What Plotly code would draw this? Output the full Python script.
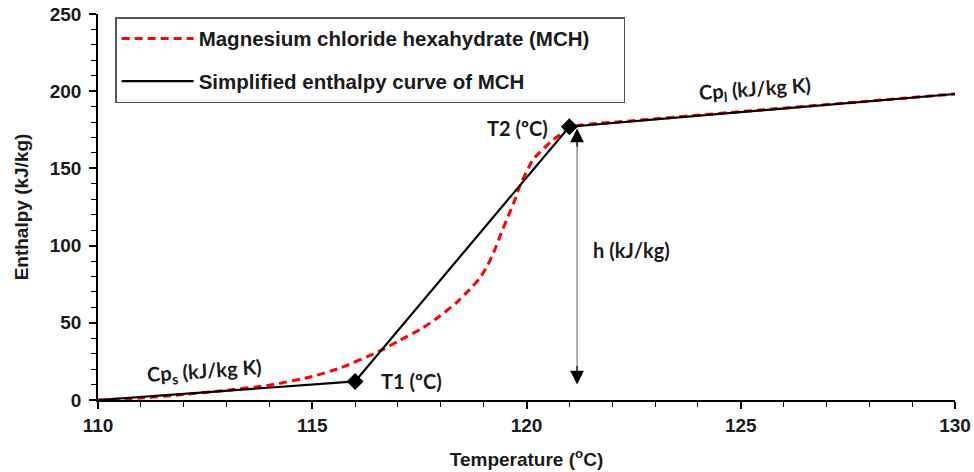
import plotly.graph_objects as go

# Data
mch_temp = [110, 111, 112, 113, 114, 115, 115.64, 116.57, 117.0, 117.58, 117.97, 118.36, 118.67,
            118.91, 119.10, 119.26, 119.41, 119.57, 119.73, 119.84, 120.15, 120.62, 121.09,
            121.71, 122, 125, 128, 130]
mch_enth = [0, 1.3, 3.5, 6.3, 9.6, 15.2, 20.6, 31.6, 38.0, 46.7, 54.2, 62.9, 71.5,
            79.0, 87.6, 97.3, 108.1, 118.9, 129.7, 138.3, 155.6, 168.5, 177.1,
            179.3, 179.8, 186.8, 193.6, 198.2]

simp_temp = [110, 116, 121, 130]
simp_enth = [0, 12, 177, 198.2]

key_temp = [116, 121]     # T1, T2
key_enth = [12, 177]

x_ticks = [110, 115, 120, 125, 130]
y_ticks = [0, 50, 100, 150, 200, 250]

TICKFONT = dict(family="Liberation Sans, Arial, sans-serif", size=19, color="#1a1a1a", weight="bold")
TITLEFONT = dict(family="Liberation Sans, Arial, sans-serif", size=19, color="#1a1a1a", weight="bold")
ANNFONT = dict(family="Lato, Open Sans, sans-serif", size=20, color="#1a1a1a", weight="bold")

fig = go.Figure()

fig.add_trace(go.Scatter(
    x=mch_temp, y=mch_enth, mode="lines",
    name="Magnesium chloride hexahydrate (MCH)\u00a0\u00a0\u00a0\u00a0\u00a0",
    line=dict(color="#FF0000", width=3, dash="8px,5px", shape="spline", smoothing=0.5),
    legendgroup="a",
))
fig.add_trace(go.Scatter(
    x=simp_temp, y=simp_enth, mode="lines", name="Simplified enthalpy curve of MCH",
    line=dict(color="#000000", width=2.2),
    legendgroup="b",
))
fig.add_trace(go.Scatter(
    x=key_temp, y=key_enth, mode="markers", showlegend=False,
    marker=dict(symbol="diamond", size=13, color="#000000"),
))

# double-headed arrow for h
arrow_x = 121.18
fig.add_shape(type="line", x0=arrow_x, x1=arrow_x, y0=18, y1=168,
              line=dict(color="#7f7f7f", width=1.2))
fig.add_annotation(x=arrow_x, y=175.8, ax=arrow_x, ay=163, axref="x", ayref="y",
                   showarrow=True, arrowhead=2, arrowsize=2.3, arrowwidth=1.2,
                   arrowcolor="#000000", text="")
fig.add_annotation(x=arrow_x, y=10, ax=arrow_x, ay=23, axref="x", ayref="y",
                   showarrow=True, arrowhead=2, arrowsize=2.3, arrowwidth=1.2,
                   arrowcolor="#000000", text="")

# text labels
fig.add_annotation(x=117.32, y=12.0, text="T1 (ºC)", showarrow=False, font=ANNFONT)
fig.add_annotation(x=119.78, y=176.3, text="T2 (ºC)", showarrow=False, font=ANNFONT)
fig.add_annotation(x=122.46, y=97.3, text="h (kJ/kg)", showarrow=False, font=ANNFONT)
fig.add_annotation(x=112.49, y=18.4, text="Cp<sub>s</sub> (kJ/kg K)", showarrow=False,
                   font=ANNFONT, textangle=-4)
fig.add_annotation(x=125.33, y=200.8, text="Cp<sub>l</sub> (kJ/kg K)", showarrow=False,
                   font=ANNFONT, textangle=-4)

fig.update_layout(
    width=974, height=472, autosize=False,
    margin=dict(l=98, r=19, t=14, b=72),
    paper_bgcolor="white", plot_bgcolor="white",
    showlegend=True,
    legend=dict(
        x=0.02, y=0.992, xanchor="left", yanchor="top",
        bgcolor="white", bordercolor="#555555", borderwidth=1.5,
        font=dict(family="Liberation Sans, Arial, sans-serif", size=20.5, color="#1a1a1a", weight="bold"),
        traceorder="grouped", tracegroupgap=13, itemwidth=72,
    ),
    xaxis=dict(
        range=[110, 130], tickvals=x_ticks, ticktext=[str(v) for v in x_ticks],
        showgrid=False, zeroline=False, showline=True, linecolor="#000000", linewidth=1.5,
        ticks="outside", ticklen=7, tickwidth=1.5, tickcolor="#000000",
        minor=dict(dtick=1, ticks="outside", ticklen=5, tickwidth=1.2, tickcolor="#000000"),
        tickfont=TICKFONT, automargin=False, ticklabeloverflow="allow",
        title=dict(text="Temperature (<sup>o</sup>C)", font=TITLEFONT, standoff=18),
    ),
    yaxis=dict(
        range=[0, 250], tickvals=y_ticks, ticktext=[str(v) for v in y_ticks],
        showgrid=False, zeroline=False, showline=True, linecolor="#000000", linewidth=1.5,
        ticks="outside", ticklen=7, tickwidth=1.5, tickcolor="#000000",
        minor=dict(dtick=10, ticks="outside", ticklen=5, tickwidth=1.2, tickcolor="#000000"),
        tickfont=TICKFONT, automargin=False, ticklabelstandoff=4, ticklabeloverflow="allow",
        title=dict(text="Enthalpy (kJ/kg)", font=TITLEFONT, standoff=16),
    ),
)

# remove the default page margin so the 974x472 figure fills the window exactly
fig.write_html("out.html",
               config={"displayModeBar": False},
               post_script="document.body.style.margin='0';document.body.style.overflow='hidden';")
